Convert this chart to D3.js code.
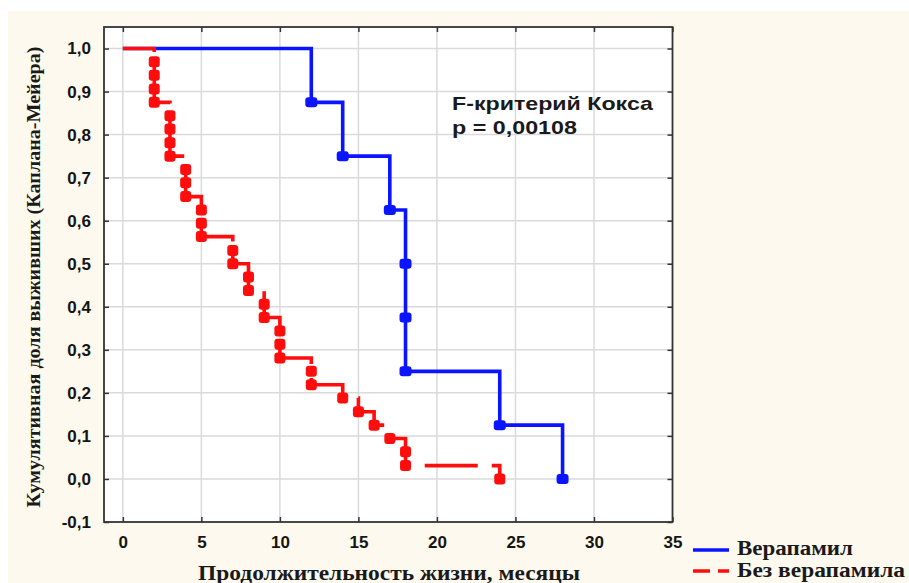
<!DOCTYPE html>
<html><head><meta charset="utf-8">
<script src="https://cdn.jsdelivr.net/npm/d3@7"></script>
<style>html,body{margin:0;padding:0;background:#fff;}svg{display:block;}</style>
</head><body>
<script>
// ---- data ----
const blueTimes = [12, 14, 17, 18, 18, 18, 24, 28];
const blueSurv  = [0.875, 0.75, 0.625, 0.5, 0.375, 0.25, 0.125, 0];
const redTimes = [2,2,2,2,3,3,3,3,4,4,4,5,5,5,7,7,8,8,9,9,10,10,10,12,12,14,15,16,17,18,18,24];
const redSurv  = [0.969,0.938,0.906,0.875,0.844,0.813,0.781,0.75,0.719,0.688,0.656,0.625,0.594,0.563,
                  0.531,0.5,0.469,0.438,0.406,0.375,0.344,0.313,0.281,0.25,0.219,0.188,0.156,0.125,
                  0.094,0.063,0.031,0];
const xTicks = [0, 5, 10, 15, 20, 25, 30, 35];
const yTicks = [-0.1, 0, 0.1, 0.2, 0.3, 0.4, 0.5, 0.6, 0.7, 0.8, 0.9, 1.0];
const seriesNames = ["Верапамил", "Без верапамила"];
const xTitle = "Продолжительность жизни, месяцы";
const yTitle = "Кумулятивная доля выживших (Каплана-Мейера)";
const noteLines = ["F-критерий Кокса", "p = 0,00108"];

const W = 909, H = 583;
const L = 104, R = 672.5, T = 27, B = 522;
const svg = d3.select("body").append("svg").attr("width", W).attr("height", H);
svg.append("rect").attr("x", 0).attr("y", 0).attr("width", W).attr("height", H).attr("fill", "#fff");
svg.append("rect").attr("x", 8).attr("y", 11).attr("width", W - 8).attr("height", H - 11).attr("fill", "#fdf9ee");

const x = d3.scaleLinear().domain([-1.2, 35]).range([L, R]);
const y = d3.scaleLinear().domain([-0.1, 1.05]).range([B, T]);

svg.append("rect").attr("x", L).attr("y", T).attr("width", R - L).attr("height", B - T).attr("fill", "#fff");

// grid
const grid = svg.append("g").attr("stroke", "#dadada").attr("stroke-width", 1.5);
xTicks.filter(d => d < 35).forEach(d => grid.append("line").attr("x1", x(d)).attr("x2", x(d)).attr("y1", T).attr("y2", B));
yTicks.filter(d => d > -0.1).forEach(d => grid.append("line").attr("x1", L).attr("x2", R).attr("y1", y(d)).attr("y2", y(d)));

// axes (ticks inside)
const fmtY = d => d3.format(".1f")(d).replace(".", ",").replace("\u2212", "-");
const axStyle = g => {
  g.select(".domain").remove();
  g.selectAll(".tick line").attr("stroke", "#333").attr("stroke-width", 1.5);
  g.selectAll(".tick text").attr("fill", "#151515").attr("font-family", "'Liberation Sans', Arial, sans-serif")
    .attr("font-weight", "bold").attr("font-size", 17);
};
svg.append("g").attr("transform", `translate(0,${B})`)
  .call(d3.axisBottom(x).tickValues(xTicks).tickSizeInner(-5).tickSizeOuter(0).tickPadding(14).tickFormat(d3.format("d")))
  .call(axStyle);
svg.append("g").attr("transform", `translate(0,${T})`)
  .call(d3.axisTop(x).tickValues(xTicks).tickSizeInner(-5).tickSizeOuter(0).tickFormat(""))
  .call(axStyle);
svg.append("g").attr("transform", `translate(${L},0)`)
  .call(d3.axisLeft(y).tickValues(yTicks).tickSizeInner(-5).tickSizeOuter(0).tickPadding(13).tickFormat(fmtY))
  .call(axStyle);
svg.append("g").attr("transform", `translate(${R},0)`)
  .call(d3.axisRight(y).tickValues(yTicks).tickSizeInner(-5).tickSizeOuter(0).tickFormat(""))
  .call(axStyle);

// frame
svg.append("rect").attr("x", L).attr("y", T).attr("width", R - L).attr("height", B - T)
  .attr("fill", "none").attr("stroke", "#333").attr("stroke-width", 1.8);

// curves
const line = d3.line().x(d => x(d[0])).y(d => y(d[1])).curve(d3.curveStepAfter);
const bluePts = [[0, 1]].concat(blueTimes.map((t, i) => [t, blueSurv[i]]));
const redPts = [[0, 1]].concat(redTimes.map((t, i) => [t, redSurv[i]]));

svg.append("path").attr("d", line(bluePts)).attr("fill", "none").attr("stroke", "#0a14ff").attr("stroke-width", 3.6);
svg.selectAll(".bm").data(blueTimes.map((t, i) => [t, blueSurv[i]])).enter().append("rect")
  .attr("x", d => x(d[0]) - 6).attr("y", d => y(d[1]) - 5).attr("width", 12).attr("height", 10)
  .attr("rx", 3).attr("fill", "#0a14ff");

svg.append("path").attr("d", line(redPts)).attr("fill", "none").attr("stroke", "#ff0d0d").attr("stroke-width", 3.6)
  .attr("stroke-dasharray", "53,14").attr("stroke-dashoffset", 18);
svg.selectAll(".rm").data(redTimes.map((t, i) => [t, redSurv[i]])).enter().append("rect")
  .attr("x", d => x(d[0]) - 5.5).attr("y", d => y(d[1]) - 5.5).attr("width", 11).attr("height", 11)
  .attr("rx", 3).attr("fill", "#ff0d0d");

// annotation
const serif = "'Liberation Serif', 'Times New Roman', serif";
const sans = "'Liberation Sans', Arial, sans-serif";
svg.append("text").attr("x", 452).attr("y", 110).text(noteLines[0])
  .attr("font-family", sans).attr("font-weight", "bold").attr("font-size", 19).attr("fill", "#1a1a1a")
  .attr("textLength", 201).attr("lengthAdjust", "spacingAndGlyphs");
svg.append("text").attr("x", 452).attr("y", 134).text(noteLines[1])
  .attr("font-family", sans).attr("font-weight", "bold").attr("font-size", 19).attr("fill", "#1a1a1a")
  .attr("textLength", 125).attr("lengthAdjust", "spacingAndGlyphs");

// titles
svg.append("text").attr("x", 198).attr("y", 580).text(xTitle)
  .attr("font-family", serif).attr("font-weight", "bold").attr("font-size", 20).attr("fill", "#1a1a1a")
  .attr("textLength", 382).attr("lengthAdjust", "spacingAndGlyphs");
svg.append("text").attr("transform", "translate(40,277) rotate(-90)").attr("text-anchor", "middle").text(yTitle)
  .attr("font-family", serif).attr("font-weight", "bold").attr("font-size", 19).attr("fill", "#1a1a1a")
  .attr("textLength", 461).attr("lengthAdjust", "spacingAndGlyphs");

// legend
svg.append("line").attr("x1", 693).attr("x2", 729).attr("y1", 550).attr("y2", 550)
  .attr("stroke", "#0a14ff").attr("stroke-width", 3.6);
svg.append("line").attr("x1", 693).attr("x2", 729).attr("y1", 571).attr("y2", 571)
  .attr("stroke", "#ff0d0d").attr("stroke-width", 3.6).attr("stroke-dasharray", "17,8");
svg.append("text").attr("x", 737).attr("y", 555).text(seriesNames[0])
  .attr("font-family", serif).attr("font-weight", "bold").attr("font-size", 20).attr("fill", "#1a1a1a")
  .attr("textLength", 116).attr("lengthAdjust", "spacingAndGlyphs");
svg.append("text").attr("x", 737).attr("y", 577).text(seriesNames[1])
  .attr("font-family", serif).attr("font-weight", "bold").attr("font-size", 20).attr("fill", "#1a1a1a")
  .attr("textLength", 168).attr("lengthAdjust", "spacingAndGlyphs");
</script>
</body></html>
